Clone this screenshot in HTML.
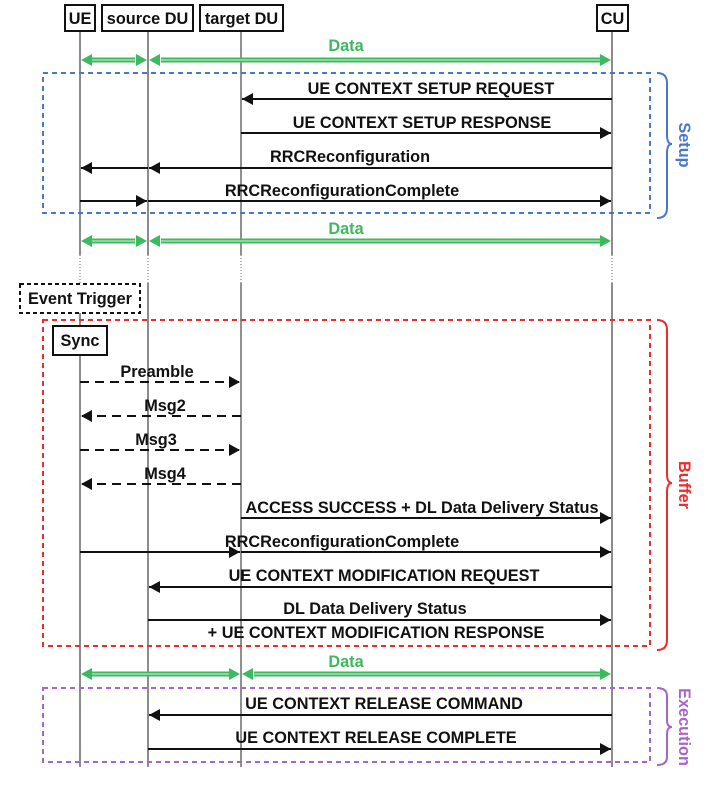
<!DOCTYPE html>
<html><head><meta charset="utf-8"><style>
html,body{margin:0;padding:0;background:#fff;}
svg text{font-family:"Liberation Sans",sans-serif;font-weight:bold;font-size:16.3px;}
</style></head><body>
<svg width="717" height="787" viewBox="0 0 717 787" xmlns="http://www.w3.org/2000/svg">
<defs>
<marker id="ab" markerWidth="11" markerHeight="12" refX="11" refY="6" orient="auto" markerUnits="userSpaceOnUse"><path d="M0,0 L11,6 L0,12 z" fill="#111"/></marker>
</defs>
<!-- lifelines -->
<g stroke="#666" stroke-width="1.5">
<line x1="80" y1="31" x2="80" y2="255"/><line x1="80" y1="313" x2="80" y2="767"/>
<line x1="148" y1="31" x2="148" y2="255"/><line x1="148" y1="283" x2="148" y2="767"/>
<line x1="241" y1="31" x2="241" y2="255" stroke="#222" stroke-width="1"/><line x1="241" y1="283" x2="241" y2="767" stroke="#222" stroke-width="1"/>
<line x1="612" y1="31" x2="612" y2="255"/><line x1="612" y1="283" x2="612" y2="767"/>
</g>
<g stroke="#666" stroke-width="1" stroke-dasharray="1,2">
<line x1="80" y1="255" x2="80" y2="284"/><line x1="148" y1="255" x2="148" y2="283"/><line x1="241" y1="255" x2="241" y2="283"/><line x1="612" y1="255" x2="612" y2="283"/>
</g>
<!-- headers -->
<g fill="#fff" stroke="#111" stroke-width="2">
<rect x="65" y="5" width="30" height="26"/><rect x="102" y="5" width="91" height="26"/><rect x="200" y="5" width="83" height="26"/><rect x="597" y="5" width="31" height="26"/>
</g>
<g text-anchor="middle" fill="#111">
<text x="80" y="24">UE</text><text x="147.5" y="24">source DU</text><text x="241.5" y="24">target DU</text><text x="612.5" y="24">CU</text>
</g>
<!-- boxes -->
<rect x="43" y="73" width="607" height="140" fill="none" stroke="#4a78c8" stroke-width="2" stroke-dasharray="5,4"/>
<rect x="43" y="320" width="607" height="326" fill="none" stroke="#ee2b2b" stroke-width="2" stroke-dasharray="5,4"/>
<rect x="43" y="688" width="607" height="74" fill="none" stroke="#a865c9" stroke-width="2" stroke-dasharray="5,4"/>
<!-- braces -->
<path d="M657,73 Q667,73 667,83 L667,135 Q667,144 672,144 Q667,144 667,153 L667,208 Q667,218 657,218" fill="none" stroke="#4a78c8" stroke-width="2"/>
<path d="M657,320 Q667,320 667,330 L667,474 Q667,483 672,483 Q667,483 667,492 L667,640 Q667,650 657,650" fill="none" stroke="#ee2b2b" stroke-width="2"/>
<path d="M657,688 Q667,688 667,696 L667,720 Q667,727 672,727 Q667,727 667,734 L667,757 Q667,765 657,765" fill="none" stroke="#a865c9" stroke-width="2"/>
<text transform="translate(679,145) rotate(90)" text-anchor="middle" fill="#4a78c8">Setup</text>
<text transform="translate(679,485) rotate(90)" text-anchor="middle" fill="#ee2b2b">Buffer</text>
<text transform="translate(679,727) rotate(90)" text-anchor="middle" fill="#a865c9">Execution</text>
<!-- data arrows -->
<g stroke="#3cba5e" stroke-width="5" fill="none">
<line x1="92" y1="60" x2="135" y2="60"/><line x1="161" y1="60" x2="600" y2="60"/>
<line x1="92" y1="241" x2="135" y2="241"/><line x1="161" y1="241" x2="600" y2="241"/>
<line x1="92" y1="674" x2="229" y2="674"/><line x1="254" y1="674" x2="600" y2="674"/>
</g>
<g stroke="#d8f0dd" stroke-width="1">
<line x1="92" y1="60" x2="135" y2="60"/><line x1="161" y1="60" x2="600" y2="60"/>
<line x1="92" y1="241" x2="135" y2="241"/><line x1="161" y1="241" x2="600" y2="241"/>
<line x1="92" y1="674" x2="229" y2="674"/><line x1="254" y1="674" x2="600" y2="674"/>
</g>
<g fill="#3cba5e">
<path d="M81,60 L92,54 L92,66z"/><path d="M147,60 L136,54 L136,66z"/><path d="M149,60 L160,54 L160,66z"/><path d="M611,60 L600,54 L600,66z"/>
<path d="M81,241 L92,235 L92,247z"/><path d="M147,241 L136,235 L136,247z"/><path d="M149,241 L160,235 L160,247z"/><path d="M611,241 L600,235 L600,247z"/>
<path d="M81,674 L92,668 L92,680z"/><path d="M240,674 L229,668 L229,680z"/><path d="M242,674 L253,668 L253,680z"/><path d="M611,674 L600,668 L600,680z"/>
</g>
<g text-anchor="middle" fill="#3cba5e"><text x="346" y="51">Data</text><text x="346" y="234">Data</text><text x="346" y="667">Data</text></g>
<!-- messages -->
<g stroke="#111" stroke-width="2" fill="none">
<line x1="612" y1="99" x2="242" y2="99" marker-end="url(#ab)"/>
<line x1="241" y1="133" x2="611" y2="133" marker-end="url(#ab)"/>
<line x1="612" y1="168" x2="149" y2="168" marker-end="url(#ab)"/>
<line x1="148" y1="168" x2="81" y2="168" marker-end="url(#ab)"/>
<line x1="80" y1="201" x2="147" y2="201" marker-end="url(#ab)"/>
<line x1="148" y1="201" x2="611" y2="201" marker-end="url(#ab)"/>
<g stroke-dasharray="9,6">
<line x1="80" y1="382" x2="240" y2="382" marker-end="url(#ab)"/>
<line x1="241" y1="416" x2="81" y2="416" marker-end="url(#ab)"/>
<line x1="80" y1="450" x2="240" y2="450" marker-end="url(#ab)"/>
<line x1="241" y1="484" x2="81" y2="484" marker-end="url(#ab)"/>
</g>
<line x1="241" y1="518" x2="611" y2="518" marker-end="url(#ab)"/>
<line x1="80" y1="552" x2="240" y2="552" marker-end="url(#ab)"/>
<line x1="241" y1="552" x2="611" y2="552" marker-end="url(#ab)"/>
<line x1="612" y1="587" x2="149" y2="587" marker-end="url(#ab)"/>
<line x1="148" y1="620" x2="611" y2="620" marker-end="url(#ab)"/>
<line x1="612" y1="715" x2="149" y2="715" marker-end="url(#ab)"/>
<line x1="148" y1="749" x2="611" y2="749" marker-end="url(#ab)"/>
</g>
<g fill="#111" text-anchor="middle">
<text x="431" y="94">UE CONTEXT SETUP REQUEST</text>
<text x="422" y="128">UE CONTEXT SETUP RESPONSE</text>
<text x="350" y="162">RRCReconfiguration</text>
<text x="342" y="196">RRCReconfigurationComplete</text>
<text x="157" y="377">Preamble</text>
<text x="165" y="411">Msg2</text>
<text x="156" y="445">Msg3</text>
<text x="165" y="479">Msg4</text>
<text x="422" y="513">ACCESS SUCCESS + DL Data Delivery Status</text>
<text x="342" y="547">RRCReconfigurationComplete</text>
<text x="384" y="581">UE CONTEXT MODIFICATION REQUEST</text>
<text x="375" y="614">DL Data Delivery Status</text>
<text x="376" y="638">+ UE CONTEXT MODIFICATION RESPONSE</text>
<text x="384" y="709">UE CONTEXT RELEASE COMMAND</text>
<text x="376" y="743">UE CONTEXT RELEASE COMPLETE</text>
</g>
<!-- event trigger / sync -->
<rect x="20" y="284" width="120" height="29" fill="#fff" stroke="#111" stroke-width="2" stroke-dasharray="4,3"/>
<text x="80" y="304" text-anchor="middle" fill="#111">Event Trigger</text>
<rect x="53" y="326" width="54" height="29" fill="#fff" stroke="#111" stroke-width="2"/>
<text x="80" y="346" text-anchor="middle" fill="#111">Sync</text>
</svg>
</body></html>
